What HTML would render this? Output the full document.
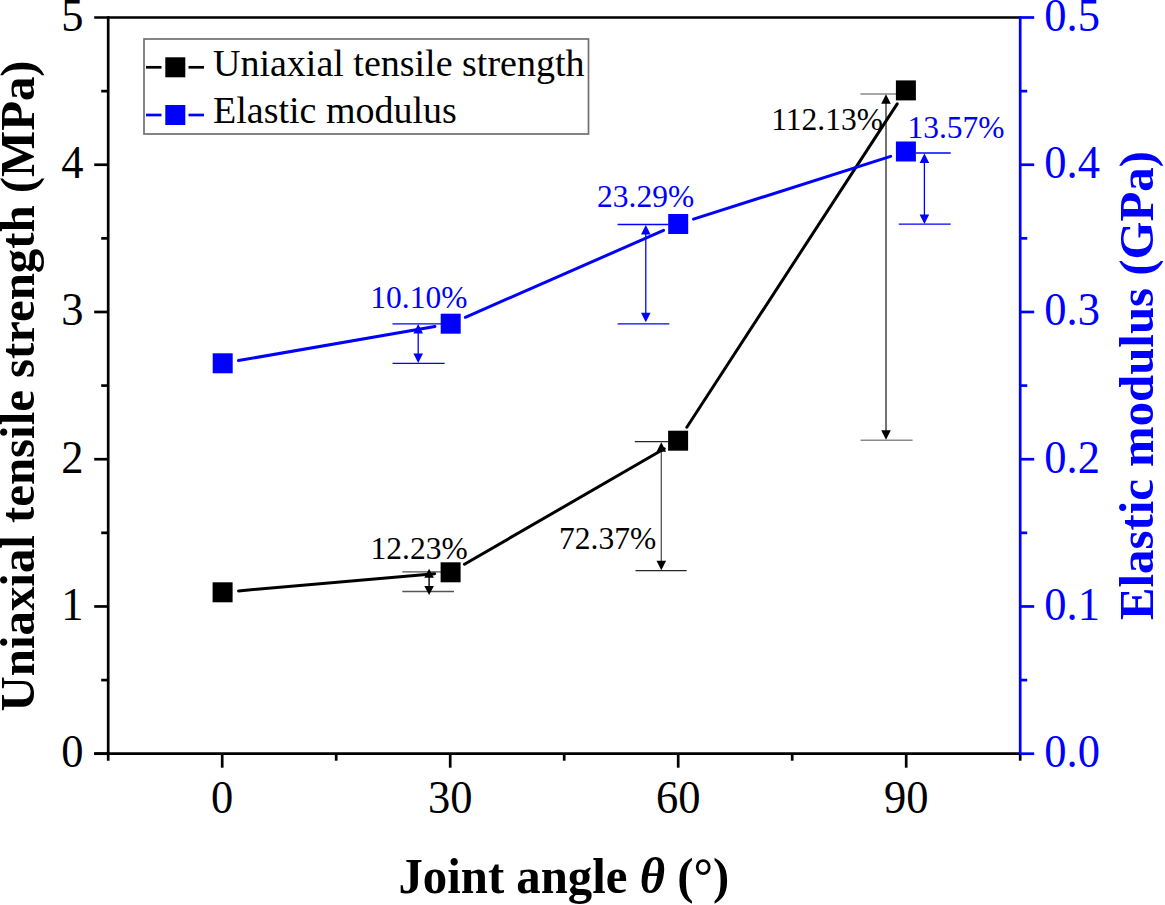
<!DOCTYPE html>
<html><head><meta charset="utf-8"><style>
html,body{margin:0;padding:0;background:#fff;}
body{width:1165px;height:905px;overflow:hidden;font-family:"Liberation Serif",serif;}
svg{display:block;}
</style></head><body>
<svg width="1165" height="905" viewBox="0 0 1165 905">
<g stroke="#000" stroke-width="2.7" fill="none" stroke-linecap="butt">
<line x1="94.19999999999999" y1="17.5" x2="1020.2" y2="17.5"/>
<line x1="108.19999999999999" y1="16.15" x2="108.19999999999999" y2="760.7"/>
<line x1="94.19999999999999" y1="753.7" x2="1020.2" y2="753.7"/>
<line x1="94.19999999999999" y1="753.7" x2="108.19999999999999" y2="753.7"/>
<line x1="94.19999999999999" y1="606.46" x2="108.19999999999999" y2="606.46"/>
<line x1="94.19999999999999" y1="459.22" x2="108.19999999999999" y2="459.22"/>
<line x1="94.19999999999999" y1="311.98" x2="108.19999999999999" y2="311.98"/>
<line x1="94.19999999999999" y1="164.74" x2="108.19999999999999" y2="164.74"/>
<line x1="101.19999999999999" y1="680.08" x2="108.19999999999999" y2="680.08"/>
<line x1="101.19999999999999" y1="532.84" x2="108.19999999999999" y2="532.84"/>
<line x1="101.19999999999999" y1="385.6" x2="108.19999999999999" y2="385.6"/>
<line x1="101.19999999999999" y1="238.36" x2="108.19999999999999" y2="238.36"/>
<line x1="101.19999999999999" y1="91.12" x2="108.19999999999999" y2="91.12"/>
<line x1="222.2" y1="753.7" x2="222.2" y2="767.7"/>
<line x1="450.2" y1="753.7" x2="450.2" y2="767.7"/>
<line x1="678.2" y1="753.7" x2="678.2" y2="767.7"/>
<line x1="906.2" y1="753.7" x2="906.2" y2="767.7"/>
<line x1="336.2" y1="753.7" x2="336.2" y2="760.7"/>
<line x1="564.2" y1="753.7" x2="564.2" y2="760.7"/>
<line x1="792.2" y1="753.7" x2="792.2" y2="760.7"/>
<line x1="1020.2" y1="753.7" x2="1020.2" y2="760.7"/>
</g>
<g stroke="#0000ff" stroke-width="2.7" fill="none">
<line x1="1020.2" y1="16.15" x2="1020.2" y2="753.7"/>
<line x1="1020.2" y1="753.7" x2="1034.2" y2="753.7"/>
<line x1="1020.2" y1="606.46" x2="1034.2" y2="606.46"/>
<line x1="1020.2" y1="459.22" x2="1034.2" y2="459.22"/>
<line x1="1020.2" y1="311.98" x2="1034.2" y2="311.98"/>
<line x1="1020.2" y1="164.74" x2="1034.2" y2="164.74"/>
<line x1="1020.2" y1="17.5" x2="1034.2" y2="17.5"/>
<line x1="1020.2" y1="680.08" x2="1027.2" y2="680.08"/>
<line x1="1020.2" y1="532.84" x2="1027.2" y2="532.84"/>
<line x1="1020.2" y1="385.6" x2="1027.2" y2="385.6"/>
<line x1="1020.2" y1="238.36" x2="1027.2" y2="238.36"/>
<line x1="1020.2" y1="91.12" x2="1027.2" y2="91.12"/>
</g>
<g font-family="Liberation Serif" font-size="44.5" fill="#000">
<text transform="translate(83.5,767.00) scale(1,1.03)" text-anchor="end">0</text>
<text transform="translate(83.5,619.76) scale(1,1.03)" text-anchor="end">1</text>
<text transform="translate(83.5,472.52) scale(1,1.03)" text-anchor="end">2</text>
<text transform="translate(83.5,325.28) scale(1,1.03)" text-anchor="end">3</text>
<text transform="translate(83.5,178.04) scale(1,1.03)" text-anchor="end">4</text>
<text transform="translate(83.5,30.80) scale(1,1.03)" text-anchor="end">5</text>
<text transform="translate(222.2,813.3) scale(1,1.03)" text-anchor="middle">0</text>
<text transform="translate(450.2,813.3) scale(1,1.03)" text-anchor="middle">30</text>
<text transform="translate(678.2,813.3) scale(1,1.03)" text-anchor="middle">60</text>
<text transform="translate(906.2,813.3) scale(1,1.03)" text-anchor="middle">90</text>
</g>
<g font-family="Liberation Serif" font-size="44.5" fill="#0000ff">
<text transform="translate(1044.3,767.00) scale(1,1.03)">0.0</text>
<text transform="translate(1044.3,619.76) scale(1,1.03)">0.1</text>
<text transform="translate(1044.3,472.52) scale(1,1.03)">0.2</text>
<text transform="translate(1044.3,325.28) scale(1,1.03)">0.3</text>
<text transform="translate(1044.3,178.04) scale(1,1.03)">0.4</text>
<text transform="translate(1044.3,30.80) scale(1,1.03)">0.5</text>
</g>
<g font-family="Liberation Serif" font-size="48.8" font-weight="bold">
<text transform="translate(33.5,385.9) rotate(-90)" text-anchor="middle" fill="#000">Uniaxial tensile strength (MPa)</text>
<text transform="translate(1153,385.6) rotate(-90)" text-anchor="middle" fill="#0000ff">Elastic modulus (GPa)</text>
<text transform="translate(563.8,893.2) scale(1,1.025)" text-anchor="middle" fill="#000">Joint angle <tspan font-style="italic">θ</tspan> (°)</text>
</g>
<rect x="144" y="39" width="444.5" height="95" fill="#fff" stroke="#707070" stroke-width="1.7"/>
<line x1="146" y1="67.3" x2="161.5" y2="67.3" stroke="#000" stroke-width="2.7"/>
<line x1="188.5" y1="67.3" x2="204" y2="67.3" stroke="#000" stroke-width="2.7"/>
<rect x="165.3" y="57.3" width="20" height="20" fill="#000"/>
<line x1="146" y1="115" x2="161.5" y2="115" stroke="#0000ff" stroke-width="2.7"/>
<line x1="188.5" y1="115" x2="204" y2="115" stroke="#0000ff" stroke-width="2.7"/>
<rect x="165.3" y="105" width="20" height="20" fill="#0000ff"/>
<g font-family="Liberation Serif" font-size="38" fill="#000">
<text x="213" y="75.5">Uniaxial tensile strength</text>
<text x="213" y="122.5">Elastic modulus</text>
</g>
<line x1="392.5" y1="323.9" x2="441" y2="323.9" stroke="#0000ff" stroke-width="1.3"/>
<line x1="392.5" y1="363.4" x2="444.6" y2="363.4" stroke="#0000ff" stroke-width="1.3"/>
<line x1="418.2" y1="332.4" x2="418.2" y2="354.4" stroke="#0000ff" stroke-width="1.3"/>
<path d="M418.2,323.9 L413.4,333.4 L423.0,333.4 Z M418.2,362.9 L413.4,353.4 L423.0,353.4 Z" fill="#0000ff"/>
<line x1="617.6" y1="224.5" x2="668.5" y2="224.5" stroke="#0000ff" stroke-width="1.3"/>
<line x1="617.6" y1="323.8" x2="669.3" y2="323.8" stroke="#0000ff" stroke-width="1.3"/>
<line x1="645.8" y1="233.4" x2="645.8" y2="313.7" stroke="#0000ff" stroke-width="1.3"/>
<path d="M645.8,224.9 L641.0,234.4 L650.5999999999999,234.4 Z M645.8,322.2 L641.0,312.7 L650.5999999999999,312.7 Z" fill="#0000ff"/>
<line x1="915.6" y1="153.0" x2="950.7" y2="153.0" stroke="#0000ff" stroke-width="1.3"/>
<line x1="898.8" y1="224.2" x2="950.7" y2="224.2" stroke="#0000ff" stroke-width="1.3"/>
<line x1="924.4" y1="162.1" x2="924.4" y2="215.4" stroke="#0000ff" stroke-width="1.3"/>
<path d="M924.4,153.6 L919.6,163.1 L929.1999999999999,163.1 Z M924.4,223.9 L919.6,214.4 L929.1999999999999,214.4 Z" fill="#0000ff"/>
<line x1="402.3" y1="571.9" x2="441" y2="571.9" stroke="#555" stroke-width="1.4"/>
<line x1="402.3" y1="591.5" x2="454" y2="591.5" stroke="#555" stroke-width="1.4"/>
<line x1="429.1" y1="576.7" x2="429.1" y2="587.1" stroke="#000" stroke-width="1.4"/>
<path d="M429.1,568.7 L424.3,577.7 L433.90000000000003,577.7 Z M429.1,595.1 L424.3,586.1 L433.90000000000003,586.1 Z" fill="#000"/>
<line x1="634.8" y1="441.6" x2="668.5" y2="441.6" stroke="#262626" stroke-width="1.3"/>
<line x1="635.5" y1="570.6" x2="686.7" y2="570.6" stroke="#262626" stroke-width="1.3"/>
<line x1="661.3" y1="450.8" x2="661.3" y2="561.8" stroke="#555" stroke-width="1.3"/>
<path d="M661.3,442.3 L656.5,451.8 L666.0999999999999,451.8 Z M661.3,570.3 L656.5,560.8 L666.0999999999999,560.8 Z" fill="#000"/>
<line x1="860.4" y1="94.0" x2="896" y2="94.0" stroke="#8a8a8a" stroke-width="1.5"/>
<line x1="860.6" y1="440.2" x2="912.6" y2="440.2" stroke="#8a8a8a" stroke-width="1.5"/>
<line x1="886" y1="102.8" x2="886" y2="431.3" stroke="#444" stroke-width="1.5"/>
<path d="M886,94.3 L881.2,103.8 L890.8,103.8 Z M886,439.8 L881.2,430.3 L890.8,430.3 Z" fill="#000"/>
<line x1="238.54" y1="590.90" x2="434.66" y2="573.70" stroke="#000" stroke-width="3" stroke-linecap="round"/>
<line x1="464.45" y1="564.29" x2="664.25" y2="448.71" stroke="#000" stroke-width="3" stroke-linecap="round"/>
<line x1="686.82" y1="427.29" x2="897.18" y2="103.81" stroke="#000" stroke-width="3" stroke-linecap="round"/>
<rect x="212.60" y="582.30" width="20" height="20" fill="#000"/>
<rect x="440.60" y="562.30" width="20" height="20" fill="#000"/>
<rect x="668.10" y="430.70" width="20" height="20" fill="#000"/>
<rect x="895.90" y="80.40" width="20" height="20" fill="#000"/>
<line x1="238.46" y1="360.56" x2="434.94" y2="326.44" stroke="#0000ff" stroke-width="3" stroke-linecap="round"/>
<line x1="465.35" y1="317.28" x2="663.55" y2="230.42" stroke="#0000ff" stroke-width="3" stroke-linecap="round"/>
<line x1="693.45" y1="219.15" x2="890.65" y2="156.35" stroke="#0000ff" stroke-width="3" stroke-linecap="round"/>
<rect x="212.70" y="353.30" width="20" height="20" fill="#0000ff"/>
<rect x="440.70" y="313.70" width="20" height="20" fill="#0000ff"/>
<rect x="668.20" y="214.00" width="20" height="20" fill="#0000ff"/>
<rect x="895.90" y="141.50" width="20" height="20" fill="#0000ff"/>
<g font-family="Liberation Serif" font-size="31.5">
<text x="370.6" y="559" fill="#000">12.23%</text>
<text x="370.3" y="307.9" fill="#0000ff">10.10%</text>
<text x="597" y="206.7" fill="#0000ff">23.29%</text>
<text x="559" y="549.2" fill="#000">72.37%</text>
<text x="771.2" y="130.4" fill="#000">112.13%</text>
<text x="907.4" y="138.3" fill="#0000ff">13.57%</text>
</g>
</svg>
</body></html>
